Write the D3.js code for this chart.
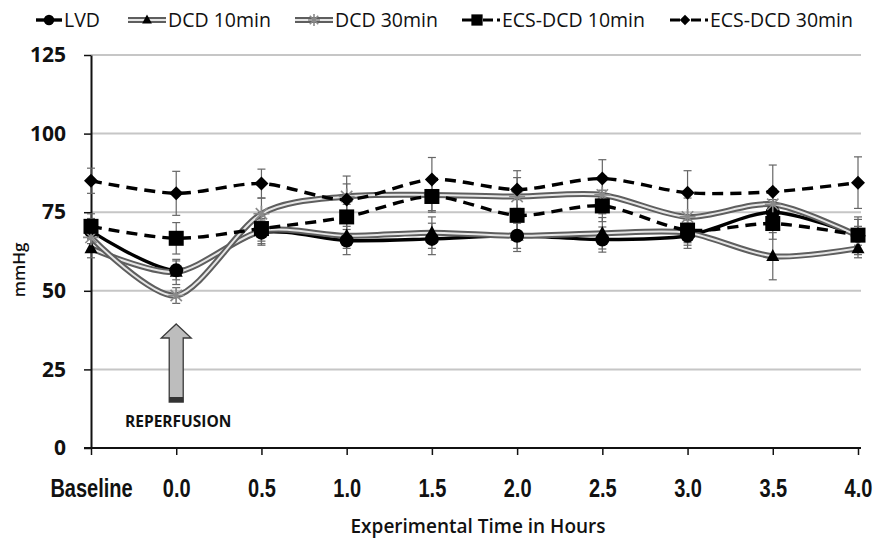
<!DOCTYPE html>
<html><head><meta charset="utf-8">
<script src="https://cdn.jsdelivr.net/npm/d3@7"></script>
<style>body{margin:0;background:#fff}svg{display:block}</style>
</head><body>
<svg id="c" width="874" height="539"></svg>
<script>
const categories = ["Baseline","0.0","0.5","1.0","1.5","2.0","2.5","3.0","3.5","4.0"];
const yTicks = [0,25,50,75,100,125];
const seriesNames = ["LVD","DCD 10min","DCD 30min","ECS-DCD 10min","ECS-DCD 30min"];
const lvd    = [69, 56.5, 68.5, 66, 66.5, 67.5, 66.3, 67.5, 75, 67.5];
const dcd10  = [63.5, 56, 69, 67.5, 68.5, 67.5, 68.3, 68.5, 61, 63.5];
const dcd30  = [67, 48.5, 74.5, 80, 80.5, 80, 80.5, 73.5, 77.5, 67.5];
const ecs10  = [70.5, 66.7, 69.8, 73.5, 80, 74, 77, 69.3, 71.4, 67.7];
const ecs30  = [85, 81, 84.1, 79, 85.4, 82.2, 85.7, 81.2, 81.5, 84.4];
const lvdErr   = [4, 3, 4, 4.5, 5, 4, 4, 4, 4, 3];
const dcd10Err = [3, 4, 4, 4, 5, 5, 5, 4, 7.5, 3];
const dcd30Err = [4, 2.5, 5, 6.5, 5, 6, 6, 6, 5, 6];
const ecs10Err = [4, 5, 4, 4, 5, 5, 5, 4, 5, 5];
const ecs30Err = [4, 7, 4.6, 5, 7, 6, 6, 7, 8.5, 8.2];
const annotation = {label:"REPERFUSION", at:"0.0"};

const svg = d3.select("#c");
const x = d3.scalePoint().domain(categories).range([91, 858]);
const y = d3.scaleLinear().domain([0,125]).range([448, 55]);

const series = [
  {name:seriesNames[0], v:lvd,   e:lvdErr,   style:"solid",  marker:"circle"},
  {name:seriesNames[1], v:dcd10, e:dcd10Err, style:"double", marker:"triangle"},
  {name:seriesNames[2], v:dcd30, e:dcd30Err, style:"double", marker:"asterisk"},
  {name:seriesNames[3], v:ecs10, e:ecs10Err, style:"dash",   marker:"square"},
  {name:seriesNames[4], v:ecs30, e:ecs30Err, style:"dash",   marker:"diamond"}
];

// gridlines
svg.append("g").selectAll("line").data(yTicks.filter(d=>d>0)).join("line")
  .attr("x1", x.range()[0]).attr("x2", 861)
  .attr("y1", d=>y(d)).attr("y2", d=>y(d))
  .attr("stroke", "#c6c6c6").attr("stroke-width", 2);

// y axis
const ya = svg.append("g").attr("transform", `translate(${x.range()[0]},0)`)
  .call(d3.axisLeft(y).tickValues(yTicks).tickSize(7).tickPadding(18).tickSizeOuter(0));
ya.select(".domain").attr("stroke","#111").attr("stroke-width",2);
ya.selectAll(".tick line").attr("stroke","#111").attr("stroke-width",1.5);
ya.selectAll("text").attr("font-family","'Open Sans', sans-serif").attr("font-weight","bold")
  .attr("font-size",21).attr("fill","#111");

// x axis
const xa = svg.append("g").attr("transform", `translate(0,${y(0)})`)
  .call(d3.axisBottom(x).tickSize(7).tickPadding(24).tickSizeOuter(0));
xa.select(".domain").attr("stroke","#111").attr("stroke-width",2).attr("d", `M${x.range()[0]-7},0H861`);
xa.selectAll(".tick line").attr("stroke","#111").attr("stroke-width",1.5);
xa.selectAll("text").attr("font-family","'Liberation Sans', Arial, sans-serif").attr("font-weight","bold")
  .attr("font-size",25).attr("fill","#111").attr("transform","scale(0.8,1)");

// axis titles
svg.append("text").attr("x", 478).attr("y", 533).attr("text-anchor","middle")
  .attr("font-family","'Open Sans', sans-serif").attr("font-weight",600).attr("font-size",19).attr("fill","#111")
  .text("Experimental Time in Hours");
svg.append("text").attr("transform","translate(25,270) rotate(-90)").attr("text-anchor","middle")
  .attr("font-family","'Open Sans', sans-serif").attr("font-weight",600).attr("font-size",17).attr("fill","#111")
  .text("mmHg");

// error bars
const eb = svg.append("g");
series.forEach(s=>{
  s.v.forEach((v,i)=>{
    const cx = x(categories[i]);
    eb.append("line").attr("x1",cx).attr("x2",cx).attr("y1",y(v+s.e[i])).attr("y2",y(v-s.e[i]))
      .attr("stroke","#666").attr("stroke-width",1.2);
    [v+s.e[i], v-s.e[i]].forEach(w=>{
      eb.append("line").attr("x1",cx-4).attr("x2",cx+4).attr("y1",y(w)).attr("y2",y(w))
        .attr("stroke","#666").attr("stroke-width",1.2);
    });
  });
});

const line = d3.line().x((d,i)=>x(categories[i])).y(d=>y(d)).curve(d3.curveCardinal.tension(0.15));

function drawLine(g, s, dpath){
  if(s.style==="solid"){
    g.append("path").attr("d",dpath).attr("fill","none").attr("stroke","#000").attr("stroke-width",3.4);
  } else if(s.style==="double"){
    g.append("path").attr("d",dpath).attr("fill","none").attr("stroke","#5e5e5e").attr("stroke-width",6);
    g.append("path").attr("d",dpath).attr("fill","none").attr("stroke","#e6e6e6").attr("stroke-width",2);
  } else {
    g.append("path").attr("d",dpath).attr("fill","none").attr("stroke","#000").attr("stroke-width",3.4)
      .attr("stroke-dasharray","11,7");
  }
}
function drawMarker(g, type, cx, cy, sc){
  sc = sc||1;
  if(type==="circle"){
    g.append("circle").attr("cx",cx).attr("cy",cy).attr("r",7*sc).attr("fill","#000");
  } else if(type==="triangle"){
    const h=12*sc, w=13*sc;
    g.append("path").attr("d",`M${cx},${cy-h*0.6}L${cx+w/2},${cy+h*0.4}L${cx-w/2},${cy+h*0.4}Z`).attr("fill","#000");
  } else if(type==="square"){
    const a=15*sc;
    g.append("rect").attr("x",cx-a/2).attr("y",cy-a/2).attr("width",a).attr("height",a).attr("fill","#000");
  } else if(type==="diamond"){
    const a=7*sc;
    g.append("path").attr("d",`M${cx},${cy-a}L${cx+a},${cy}L${cx},${cy+a}L${cx-a},${cy}Z`).attr("fill","#000");
  } else if(type==="asterisk"){
    const r=8*sc; let d="";
    for(let k=0;k<4;k++){const a=k*Math.PI/4; d+=`M${cx-r*Math.cos(a)},${cy-r*Math.sin(a)}L${cx+r*Math.cos(a)},${cy+r*Math.sin(a)}`;}
    g.append("path").attr("d",d).attr("stroke","#8a8a8a").attr("stroke-width",1.6).attr("fill","none");
  }
}

const lg = svg.append("g");
series.forEach(s=> drawLine(lg, s, line(s.v)));
const mg = svg.append("g");
series.forEach(s=> s.v.forEach((v,i)=> drawMarker(mg, s.marker, x(categories[i]), y(v))));

// legend
const legX = [36, 128, 295, 462, 670];
const legY = 20;
series.forEach((s,i)=>{
  const g = svg.append("g");
  const x0 = legX[i], x1 = legX[i]+ (i===0?26:38);
  const p = `M${x0},${legY}L${x1},${legY}`;
  if(s.style==="dash"){
    g.append("path").attr("d",p).attr("stroke","#000").attr("stroke-width",3).attr("stroke-dasharray","10,4,3,4");
  } else drawLine(g, s, p);
  drawMarker(g, s.marker, (x0+x1)/2 - (s.style==="dash"?4:0), legY, 0.75);
  g.append("text").attr("x", x1+2).attr("y", legY+7)
    .attr("font-family","'Open Sans', sans-serif").attr("font-size",19.5).attr("fill","#111").text(s.name);
});

// reperfusion arrow
const ax = x(annotation.at);
const ag = svg.append("g");
ag.append("path").attr("d",`M${ax},324L${ax+15},338L${ax+7},338L${ax+7},402L${ax-7},402L${ax-7},338L${ax-15},338Z`)
  .attr("fill","#bdbdbd").attr("stroke","#3a3a3a").attr("stroke-width",1.3);
ag.append("rect").attr("x",ax-7).attr("y",397).attr("width",14).attr("height",5).attr("fill","#333");
ag.append("text").attr("x", ax+2).attr("y", 427).attr("text-anchor","middle")
  .attr("font-family","'Open Sans', sans-serif").attr("font-weight","bold").attr("font-size",15.5).attr("fill","#111")
  .text(annotation.label);
</script>
</body></html>
